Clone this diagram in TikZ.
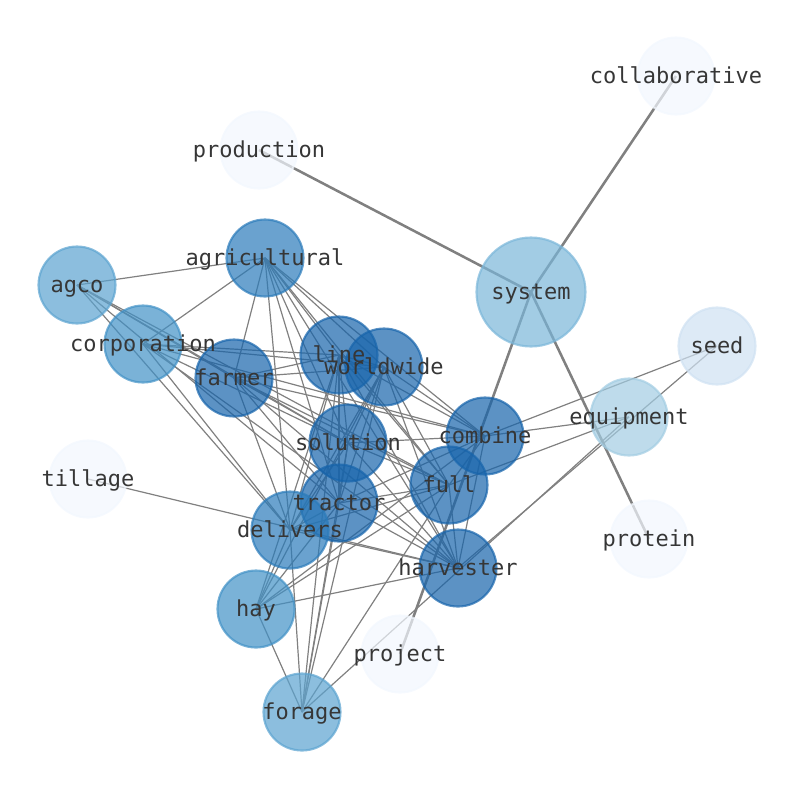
\documentclass[tikz,border=0pt]{standalone}
\usepackage{fontspec}
\usepackage{tikz}
\usetikzlibrary{backgrounds}
\newfontfamily\wordfont{DejaVu Sans Mono}

\definecolor{deepblue}{HTML}{1764AB}
\definecolor{midblue}{HTML}{2B7BBA}
\definecolor{softblue}{HTML}{4191C6}
\definecolor{paleblue}{HTML}{5BA3D0}
\definecolor{skyblue}{HTML}{7AB6D9}
\definecolor{mistblue}{HTML}{A2CCE2}
\definecolor{iceblue}{HTML}{CFE1F2}
\definecolor{snowblue}{HTML}{F2F7FE}
\definecolor{wordgray}{HTML}{363636}

\begin{document}
\begin{tikzpicture}[x=0.75pt,y=-0.75pt,
	term/.style={circle,minimum size=57.75pt,inner sep=0pt,line width=1.6pt,
		fill=#1,draw=#1,fill opacity=0.7,draw opacity=0.7},
	word/.style={inner sep=0pt,text=wordgray,text height=1.1em,text depth=0.01em,
		font=\wordfont\fontsize{16.5}{18}\selectfont},
	link/.style={draw=gray,line width=0.9pt},
	strong/.style={draw=gray,line width=1.9pt}]
	\useasboundingbox (0,0) rectangle (794,790);
	% the words
	\node [term=snowblue] (collaborative) at (676,76) {};
	\node [term=snowblue] (production) at (259,150) {};
	\node [term=midblue] (agricultural) at (265,258) {};
	\node [term=paleblue] (agco) at (77,285) {};
	\node [term=skyblue,minimum size=81.75pt] (system) at (531,292) {};
	\node [term=iceblue] (seed) at (717,346) {};
	\node [term=softblue] (corporation) at (143,344) {};
	\node [term=deepblue] (line) at (339,355) {};
	\node [term=deepblue] (worldwide) at (384,367) {};
	\node [term=deepblue] (farmer) at (234,378) {};
	\node [term=mistblue] (equipment) at (629,417) {};
	\node [term=deepblue] (combine) at (485,436) {};
	\node [term=deepblue] (solution) at (348,443) {};
	\node [term=snowblue] (tillage) at (88,479) {};
	\node [term=deepblue] (full) at (449,485) {};
	\node [term=deepblue] (tractor) at (339,503) {};
	\node [term=midblue] (delivers) at (290,530) {};
	\node [term=snowblue] (protein) at (649,539) {};
	\node [term=deepblue] (harvester) at (458,568) {};
	\node [term=softblue] (hay) at (256,609) {};
	\node [term=snowblue] (project) at (400,654) {};
	\node [term=paleblue] (forage) at (302,712) {};
	% labels on top
	\foreach \w in {collaborative,production,agricultural,agco,system,seed,corporation,
		line,worldwide,farmer,equipment,combine,solution,tillage,full,tractor,
		delivers,protein,harvester,hay,project,forage}
		\node [word] (\w-txt) at (\w) {\w};
	% links, under the words
	\begin{scope}[on background layer]
	\draw [strong]
	(system.center) edge (production.center)
	(system.center) edge (collaborative.center)
	(system.center) edge (protein.center)
	(system.center) edge (project.center);
	\draw [link]
	(agco.center) edge (agricultural.center) (agco.center) edge (farmer.center)
	(agco.center) edge (solution.center) (agco.center) edge (full.center)
	(agco.center) edge (delivers.center) (agco.center) edge (tractor.center)
	(corporation.center) edge (agricultural.center) (corporation.center) edge (line.center)
	(corporation.center) edge (worldwide.center) (corporation.center) edge (solution.center)
	(corporation.center) edge (combine.center) (corporation.center) edge (delivers.center)
	(corporation.center) edge (harvester.center)
	(agricultural.center) edge (farmer.center) (agricultural.center) edge (line.center)
	(agricultural.center) edge (worldwide.center) (agricultural.center) edge (solution.center)
	(agricultural.center) edge (tractor.center) (agricultural.center) edge (delivers.center)
	(agricultural.center) edge (combine.center) (agricultural.center) edge (full.center)
	(agricultural.center) edge (harvester.center)
	(farmer.center) edge (line.center) (farmer.center) edge (worldwide.center)
	(farmer.center) edge (solution.center) (farmer.center) edge (combine.center)
	(farmer.center) edge (full.center) (farmer.center) edge (tractor.center)
	(farmer.center) edge (delivers.center) (farmer.center) edge (harvester.center)
	(line.center) edge (worldwide.center) (line.center) edge (solution.center)
	(line.center) edge (tractor.center) (line.center) edge (delivers.center)
	(line.center) edge (full.center) (line.center) edge (harvester.center)
	(line.center) edge (hay.center) (line.center) edge (forage.center)
	(line.center) edge (combine.center)
	(worldwide.center) edge (solution.center) (worldwide.center) edge (tractor.center)
	(worldwide.center) edge (full.center) (worldwide.center) edge (combine.center)
	(worldwide.center) edge (harvester.center) (worldwide.center) edge (hay.center)
	(worldwide.center) edge (forage.center) (worldwide.center) edge (delivers.center)
	(solution.center) edge (tractor.center) (solution.center) edge (full.center)
	(solution.center) edge (combine.center) (solution.center) edge (harvester.center)
	(solution.center) edge (delivers.center) (solution.center) edge (forage.center)
	(combine.center) edge (full.center) (combine.center) edge (tractor.center)
	(combine.center) edge (harvester.center) (combine.center) edge (hay.center)
	(combine.center) edge (equipment.center) (combine.center) edge (seed.center)
	(full.center) edge (tractor.center) (full.center) edge (harvester.center)
	(full.center) edge (delivers.center) (full.center) edge (hay.center)
	(full.center) edge (forage.center) (full.center) edge (equipment.center)
	(tractor.center) edge (harvester.center) (tractor.center) edge (delivers.center)
	(tractor.center) edge (hay.center) (tractor.center) edge (forage.center)
	(delivers.center) edge (harvester.center) (delivers.center) edge (hay.center)
	(delivers.center) edge (forage.center)
	(tillage.center) edge (harvester.center)
	(harvester.center) edge (hay.center) (harvester.center) edge (seed.center)
	(forage.center) edge (hay.center) (forage.center) edge (equipment.center);
	\end{scope}
\end{tikzpicture}
\end{document}
